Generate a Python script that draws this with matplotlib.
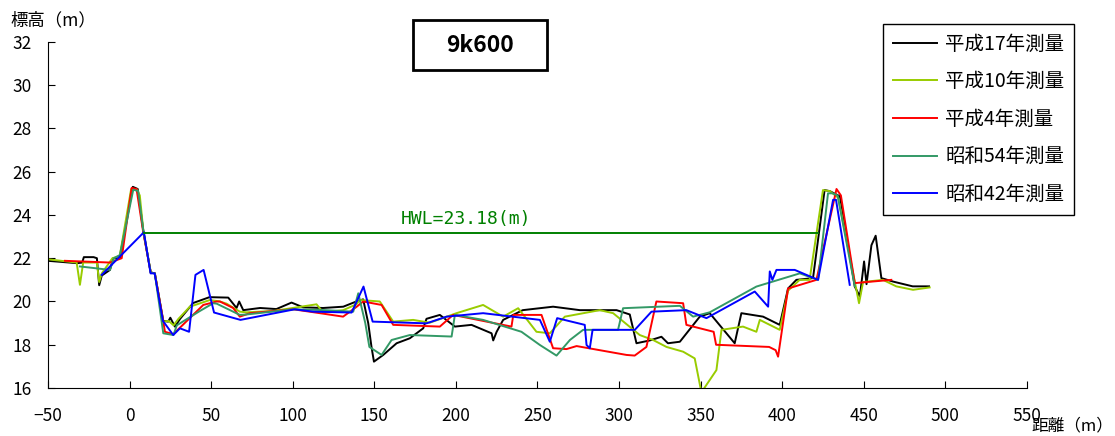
import matplotlib
matplotlib.use('Agg')
import matplotlib.pyplot as plt
from matplotlib.patches import Rectangle

plt.rcParams['font.family'] = ['Noto Sans CJK JP', 'DejaVu Sans']

# 横断測量データ (距離 m, 標高 m)
h17_x = [-50, -32, -29, -28, -22, -20, -18.6, -17, -12, -10, -6, 2, 5, 8.5, 13, 15.5, 20.7, 23.7, 25, 27.8,
         31, 39, 49, 60.5, 65.6, 67.2, 69.7, 80, 90, 99.3, 106.4, 118.6, 131, 139, 143.2, 146.3, 148.3, 149.8,
         155.5, 163.7, 171.8, 180, 182, 190.2, 199.4, 209.6, 221.9, 222.9, 225, 229, 241, 259.6, 276, 298.5,
         306.6, 310.7, 318.9, 326, 330, 337.3, 349.5, 355.6, 370.9, 375, 388.3, 398.5, 403.6, 408.7, 418.9,
         426, 429.2, 435.4, 444.5, 447.6, 450.2, 451.7, 454.7, 457.3, 460.8, 468, 480, 490]
h17_z = [21.88, 21.77, 21.8, 22.05, 22.05, 22.0, 20.75, 21.2, 21.46, 22.0, 22.0, 25.3, 25.2, 23.24, 21.34, 21.3,
         19.1, 19.07, 19.25, 18.84, 19.2, 19.93, 20.2, 20.18, 19.7, 20.0, 19.6, 19.7, 19.65, 19.95, 19.73, 19.7,
         19.76, 20.0, 20.1, 19.0, 17.9, 17.22, 17.53, 18.07, 18.3, 18.76, 19.2, 19.38, 18.84, 18.92, 18.53, 18.2,
         18.6, 19.15, 19.6, 19.76, 19.6, 19.6, 19.4, 18.07, 18.2, 18.37, 18.07, 18.14, 19.3, 19.46, 18.07, 19.46,
         19.3, 18.92, 20.6, 21.0, 21.08, 25.15, 25.1, 24.86, 20.69, 20.23, 21.85, 20.8, 22.6, 23.04, 21.08, 20.92,
         20.7, 20.7]

h10_x = [-50, -32.4, -30.4, -28.4, -20, -18.6, -17, -10.5, -6, 1, 4.3, 6.3, 8.5, 13, 15.5, 20.7, 24, 27, 30, 37,
         49.3, 55.4, 59.5, 67.6, 71.7, 88, 100, 114.6, 118.6, 131, 139, 141.2, 153.4, 161.6, 173.8, 184, 200.4,
         216.7, 229, 238.2, 249.4, 257.6, 266.8, 288.2, 296.4, 312.7, 320.9, 329.1, 339.3, 346.4, 350.5, 359.7,
         362.8, 376, 384.2, 386.3, 398.5, 403.6, 410.7, 416.8, 425, 429.2, 434.3, 445.5, 447.1, 449.6, 461.8,
         469.9, 480.2, 490.4]
h10_z = [21.95, 21.8, 20.77, 21.8, 21.8, 20.9, 21.3, 22.0, 22.1, 25.2, 25.2, 24.9, 23.24, 21.34, 21.3, 19.07,
         19.1, 18.9, 19.2, 19.76, 20.07, 20.0, 19.9, 19.53, 19.5, 19.56, 19.7, 19.87, 19.5, 19.6, 19.87, 20.07,
         20.0, 19.07, 19.15, 19.02, 19.46, 19.84, 19.3, 19.69, 18.6, 18.53, 19.3, 19.6, 19.46, 18.45, 18.22, 17.9,
         17.68, 17.37, 15.8, 16.83, 18.69, 18.84, 18.6, 19.15, 18.69, 20.5, 21.0, 21.0, 25.15, 25.1, 24.8, 20.54,
         19.92, 20.9, 21.0, 20.7, 20.54, 20.65]

h4_x = [-39.6, -12, -4.8, 1.3, 4.3, 8.4, 13, 15.5, 20.7, 21.7, 26.8, 45.2, 53.4, 55.4, 63.5, 67.6, 73.8, 100.3,
        116.7, 130.9, 139.1, 143.2, 154.5, 161.6, 190.2, 198.3, 234.1, 235.2, 252.5, 259.6, 267.8, 274, 304.6,
        309.6, 316.8, 322.9, 339.3, 341.3, 358, 359.5, 392, 396, 397.5, 403.6, 421, 433.3, 436, 444.5, 466.9]
h4_z = [21.88, 21.8, 22.0, 25.25, 25.2, 23.2, 21.34, 21.3, 19.07, 18.6, 18.49, 19.84, 20.0, 20.0, 19.7, 19.3,
        19.46, 19.64, 19.46, 19.3, 19.75, 20.0, 19.84, 18.92, 18.84, 19.38, 18.84, 19.38, 19.38, 17.84, 17.8,
        17.94, 17.53, 17.5, 17.9, 20.0, 19.92, 18.92, 18.6, 18.0, 17.9, 17.75, 17.45, 20.6, 21.0, 25.2, 24.9,
        20.85, 21.0]

s54_x = [-30.4, -12, -9.6, -5.9, 2.3, 5.3, 8.5, 13, 15.5, 20.7, 26.9, 29, 43.1, 51.3, 53.4, 67.6, 71.7, 100.3,
         120, 137.1, 140.2, 144.5, 147, 154.5, 160.6, 171.8, 197.4, 199.4, 216.7, 240.2, 251.5, 261.7, 269.9,
         278, 299.4, 302.5, 337.3, 345.4, 355.6, 384.2, 410.8, 422, 428.1, 431, 434, 444.5]
s54_z = [21.62, 21.46, 22.0, 22.15, 25.17, 25.1, 23.24, 21.34, 21.3, 18.53, 18.45, 18.9, 19.56, 19.92, 19.9,
         19.38, 19.4, 19.64, 19.6, 19.53, 20.38, 19.0, 17.9, 17.53, 18.22, 18.45, 18.38, 19.38, 19.15, 18.6,
         17.99, 17.5, 18.22, 18.69, 18.69, 19.69, 19.8, 19.3, 19.5, 20.69, 21.3, 21.0, 25.0, 25.0, 24.9, 20.7]

s42_x = [-17.1, 8.8, 12.9, 15.4, 20.5, 26.8, 30.9, 36.5, 40.4, 45.4, 51.8, 68, 101.3, 112.5, 136.1, 143.4, 149,
         182, 194.3, 216.7, 251.5, 257.6, 262.1, 279, 280.1, 282.1, 283.8, 299.4, 309.7, 319.9, 341.3, 353.6,
         383.2, 391.4, 392.4, 394, 396.5, 407.7, 422, 431.2, 433, 441.4]
s42_z = [21.23, 23.2, 21.3, 21.3, 19.1, 18.45, 18.76, 18.6, 21.23, 21.46, 19.49, 19.15, 19.64, 19.53, 19.49,
         20.69, 19.07, 18.99, 19.3, 19.46, 19.15, 18.14, 19.23, 18.92, 17.99, 17.84, 18.69, 18.69, 18.69, 19.53,
         19.6, 19.23, 20.46, 19.76, 21.39, 21.0, 21.46, 21.46, 21.0, 24.7, 24.7, 20.77]

labels = ['平成17年測量', '平成10年測量', '平成4年測量', '昭和54年測量', '昭和42年測量']
colors = ['#000000', '#99cc00', '#ff0000', '#339966', '#0000ff']

hwl = 23.18
hwl_x = [8.8, 422]

fig = plt.figure(figsize=(11.15, 4.36), dpi=100)
ax = fig.add_axes([0.043, 0.110, 0.878, 0.794])

series = [(h17_x, h17_z), (h10_x, h10_z), (h4_x, h4_z), (s54_x, s54_z), (s42_x, s42_z)]
handles = []
for (xs, zs), lab, col in zip(series, labels, colors):
    ln, = ax.plot(xs, zs, color=col, lw=1.4, label=lab)
    handles.append(ln)

ax.plot(hwl_x, [hwl, hwl], color='#008000', lw=1.4)
ax.text(206, 23.82, 'HWL=%.2f(m)' % hwl, color='#008000', fontsize=13,
        family='DejaVu Sans Mono', ha='center', va='center')

ax.set_xlim(-50, 550)
ax.set_ylim(16, 32)
ax.set_xticks(range(-50, 551, 50))
ax.set_yticks(range(16, 33, 2))
ax.spines['top'].set_visible(False)
ax.spines['right'].set_visible(False)
ax.tick_params(axis='both', direction='in', length=5, labelsize=12.5)
ax.tick_params(axis='x', pad=14)
ax.tick_params(axis='y', pad=12)

fig.text(0.009, 1 - 20 / 436, '標高（m）', fontsize=12.5, va='center', ha='left')
fig.text(1113 / 1115, 1 - 426 / 436, '距離（m）', fontsize=12, va='center', ha='right')

# タイトル枠
fig.patches.append(Rectangle((413 / 1115, 1 - 70 / 436), 134 / 1115, 50 / 436,
                             transform=fig.transFigure, fill=False, lw=2, ec='black'))
fig.text(480 / 1115, 1 - 45 / 436, '9k600', fontsize=16.5, fontweight='bold', ha='center', va='center')

leg = fig.legend(handles=handles, loc='upper right', bbox_to_anchor=(1074 / 1115, 1 - 24 / 436),
                 fontsize=14, fancybox=False, edgecolor='black', framealpha=1, borderaxespad=0,
                 handlelength=2.3, handletextpad=0.4, labelspacing=0.85, borderpad=0.5)
leg.get_frame().set_linewidth(1.0)

fig.savefig('out.png', dpi=100)
